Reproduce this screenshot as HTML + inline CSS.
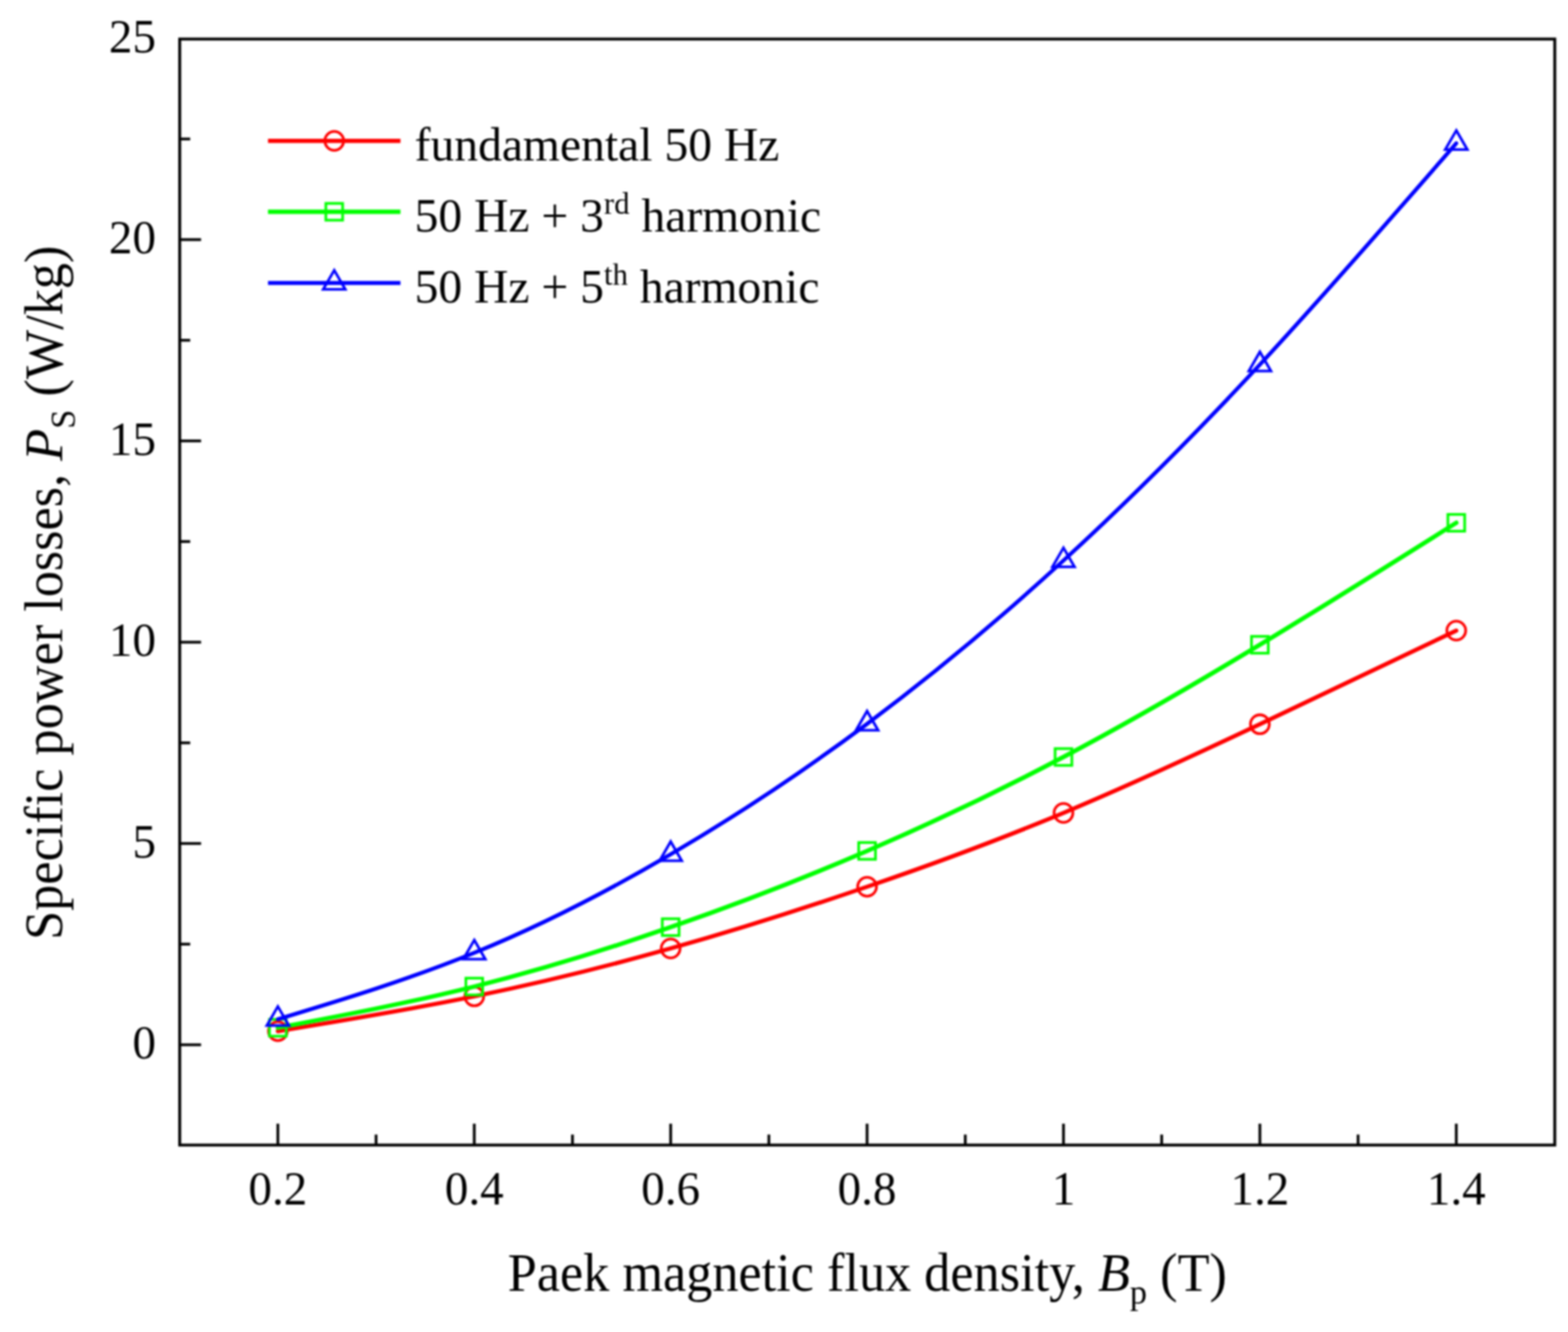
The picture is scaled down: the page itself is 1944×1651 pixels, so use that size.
<!DOCTYPE html>
<html lang="en">
<head>
<meta charset="utf-8">
<title>Specific power losses vs peak magnetic flux density</title>
<style>
html,body{margin:0;padding:0;background:#fff;}
body{width:1944px;height:1651px;overflow:hidden;}
svg{display:block;filter:blur(0.8px);}
text{font-family:"Liberation Serif","Times New Roman",serif;fill:#000;}
.tk{font-size:60px;}
.lg{font-size:59px;}
.ax{font-size:67.5px;}
.it{font-style:italic;}
</style>
</head>
<body>
<svg width="1944" height="1651" viewBox="0 0 1944 1651">
<rect x="0" y="0" width="1944" height="1651" fill="#fff"/>

<g stroke="#000" stroke-width="3.4" fill="none">
<line x1="344.50" y1="1419.3" x2="344.50" y2="1392.8"/>
<line x1="466.25" y1="1419.3" x2="466.25" y2="1406.3"/>
<line x1="588.00" y1="1419.3" x2="588.00" y2="1392.8"/>
<line x1="709.75" y1="1419.3" x2="709.75" y2="1406.3"/>
<line x1="831.50" y1="1419.3" x2="831.50" y2="1392.8"/>
<line x1="953.25" y1="1419.3" x2="953.25" y2="1406.3"/>
<line x1="1075.00" y1="1419.3" x2="1075.00" y2="1392.8"/>
<line x1="1196.75" y1="1419.3" x2="1196.75" y2="1406.3"/>
<line x1="1318.50" y1="1419.3" x2="1318.50" y2="1392.8"/>
<line x1="1440.25" y1="1419.3" x2="1440.25" y2="1406.3"/>
<line x1="1562.00" y1="1419.3" x2="1562.00" y2="1392.8"/>
<line x1="1683.75" y1="1419.3" x2="1683.75" y2="1406.3"/>
<line x1="1805.50" y1="1419.3" x2="1805.50" y2="1392.8"/>
<line x1="222.8" y1="1295.00" x2="249.3" y2="1295.00"/>
<line x1="222.8" y1="1045.50" x2="249.3" y2="1045.50"/>
<line x1="222.8" y1="796.00" x2="249.3" y2="796.00"/>
<line x1="222.8" y1="546.50" x2="249.3" y2="546.50"/>
<line x1="222.8" y1="297.00" x2="249.3" y2="297.00"/>
<line x1="222.8" y1="1170.25" x2="235.8" y2="1170.25"/>
<line x1="222.8" y1="920.75" x2="235.8" y2="920.75"/>
<line x1="222.8" y1="671.25" x2="235.8" y2="671.25"/>
<line x1="222.8" y1="421.75" x2="235.8" y2="421.75"/>
<line x1="222.8" y1="172.25" x2="235.8" y2="172.25"/>
</g>
<rect x="222.8" y="48.4" width="1704.8" height="1370.8999999999999" fill="none" stroke="#000" stroke-width="3.6"/>
<path d="M344.50,1278.10C425.67,1264.85 506.83,1251.59 588.00,1235.00C669.17,1218.41 750.33,1198.47 831.50,1175.60C912.67,1152.73 993.83,1126.93 1075.00,1099.10C1156.17,1071.27 1237.33,1041.41 1318.50,1007.60C1399.67,973.79 1480.83,936.03 1562.00,897.70C1643.17,859.37 1724.33,820.49 1805.50,781.60" fill="none" stroke="#ff0000" stroke-width="5.2" stroke-linecap="round"/>
<circle cx="344.50" cy="1278.10" r="11.7" fill="none" stroke="#ff0000" stroke-width="3.3"/>
<circle cx="588.00" cy="1235.00" r="11.7" fill="none" stroke="#ff0000" stroke-width="3.3"/>
<circle cx="831.50" cy="1175.60" r="11.7" fill="none" stroke="#ff0000" stroke-width="3.3"/>
<circle cx="1075.00" cy="1099.10" r="11.7" fill="none" stroke="#ff0000" stroke-width="3.3"/>
<circle cx="1318.50" cy="1007.60" r="11.7" fill="none" stroke="#ff0000" stroke-width="3.3"/>
<circle cx="1562.00" cy="897.70" r="11.7" fill="none" stroke="#ff0000" stroke-width="3.3"/>
<circle cx="1805.50" cy="781.60" r="11.7" fill="none" stroke="#ff0000" stroke-width="3.3"/>
<path d="M344.50,1273.90C425.67,1258.48 506.83,1243.07 588.00,1222.80C669.17,1202.53 750.33,1177.42 831.50,1149.20C912.67,1120.98 993.83,1089.65 1075.00,1054.70C1156.17,1019.75 1237.33,981.16 1318.50,938.30C1399.67,895.44 1480.83,848.30 1562.00,799.20C1643.17,750.10 1724.33,699.05 1805.50,648.00" fill="none" stroke="#00ff00" stroke-width="5.5" stroke-linecap="round"/>
<rect x="334.10" y="1263.50" width="20.80" height="20.80" fill="none" stroke="#00ff00" stroke-width="3.3"/>
<rect x="577.60" y="1212.40" width="20.80" height="20.80" fill="none" stroke="#00ff00" stroke-width="3.3"/>
<rect x="821.10" y="1138.80" width="20.80" height="20.80" fill="none" stroke="#00ff00" stroke-width="3.3"/>
<rect x="1064.60" y="1044.30" width="20.80" height="20.80" fill="none" stroke="#00ff00" stroke-width="3.3"/>
<rect x="1308.10" y="927.90" width="20.80" height="20.80" fill="none" stroke="#00ff00" stroke-width="3.3"/>
<rect x="1551.60" y="788.80" width="20.80" height="20.80" fill="none" stroke="#00ff00" stroke-width="3.3"/>
<rect x="1795.10" y="637.60" width="20.80" height="20.80" fill="none" stroke="#00ff00" stroke-width="3.3"/>
<path d="M344.50,1263.30C425.67,1238.68 506.83,1214.06 588.00,1181.00C669.17,1147.94 750.33,1106.45 831.50,1058.90C912.67,1011.35 993.83,957.75 1075.00,897.20C1156.17,836.65 1237.33,769.15 1318.50,694.80C1399.67,620.45 1480.83,539.26 1562.00,451.90C1643.17,364.54 1724.33,271.02 1805.50,177.50" fill="none" stroke="#0000ff" stroke-width="4.9" stroke-linecap="round"/>
<path d="M344.50,1247.48L358.20,1271.21L330.80,1271.21Z" fill="none" stroke="#0000ff" stroke-width="3.3" stroke-linejoin="miter"/>
<path d="M588.00,1165.18L601.70,1188.91L574.30,1188.91Z" fill="none" stroke="#0000ff" stroke-width="3.3" stroke-linejoin="miter"/>
<path d="M831.50,1043.08L845.20,1066.81L817.80,1066.81Z" fill="none" stroke="#0000ff" stroke-width="3.3" stroke-linejoin="miter"/>
<path d="M1075.00,881.38L1088.70,905.11L1061.30,905.11Z" fill="none" stroke="#0000ff" stroke-width="3.3" stroke-linejoin="miter"/>
<path d="M1318.50,678.98L1332.20,702.71L1304.80,702.71Z" fill="none" stroke="#0000ff" stroke-width="3.3" stroke-linejoin="miter"/>
<path d="M1562.00,436.08L1575.70,459.81L1548.30,459.81Z" fill="none" stroke="#0000ff" stroke-width="3.3" stroke-linejoin="miter"/>
<path d="M1805.50,161.68L1819.20,185.41L1791.80,185.41Z" fill="none" stroke="#0000ff" stroke-width="3.3" stroke-linejoin="miter"/>
<line x1="332.3" y1="174.6" x2="496.5" y2="174.6" stroke="#ff0000" stroke-width="5.2"/>
<circle cx="414.40" cy="174.60" r="11.7" fill="none" stroke="#ff0000" stroke-width="3.3"/>
<line x1="332.3" y1="262.5" x2="496.5" y2="262.5" stroke="#00ff00" stroke-width="5.5"/>
<rect x="404.00" y="252.10" width="20.80" height="20.80" fill="none" stroke="#00ff00" stroke-width="3.3"/>
<line x1="332.3" y1="350.8" x2="496.5" y2="350.8" stroke="#0000ff" stroke-width="4.9"/>
<path d="M414.40,334.98L428.10,358.71L400.70,358.71Z" fill="none" stroke="#0000ff" stroke-width="3.3" stroke-linejoin="miter"/>
<text class="lg" x="514" y="199">fundamental 50 Hz</text>
<text class="lg" x="514" y="287">50 Hz + 3<tspan dy="-22" font-size="38">rd</tspan><tspan dy="22"> harmonic</tspan></text>
<text class="lg" x="514" y="375">50 Hz + 5<tspan dy="-22" font-size="38">th</tspan><tspan dy="22"> harmonic</tspan></text>
<text class="tk" transform="translate(344.50,1493.3) scale(0.972,1)" text-anchor="middle">0.2</text>
<text class="tk" transform="translate(588.00,1493.3) scale(0.972,1)" text-anchor="middle">0.4</text>
<text class="tk" transform="translate(831.50,1493.3) scale(0.972,1)" text-anchor="middle">0.6</text>
<text class="tk" transform="translate(1075.00,1493.3) scale(0.972,1)" text-anchor="middle">0.8</text>
<text class="tk" transform="translate(1318.50,1493.3) scale(0.972,1)" text-anchor="middle">1</text>
<text class="tk" transform="translate(1562.00,1493.3) scale(0.972,1)" text-anchor="middle">1.2</text>
<text class="tk" transform="translate(1805.50,1493.3) scale(0.972,1)" text-anchor="middle">1.4</text>
<text class="tk" transform="translate(193.3,1312.00) scale(0.972,1)" text-anchor="end">0</text>
<text class="tk" transform="translate(193.3,1062.50) scale(0.972,1)" text-anchor="end">5</text>
<text class="tk" transform="translate(193.3,813.00) scale(0.972,1)" text-anchor="end">10</text>
<text class="tk" transform="translate(193.3,563.50) scale(0.972,1)" text-anchor="end">15</text>
<text class="tk" transform="translate(193.3,314.00) scale(0.972,1)" text-anchor="end">20</text>
<text class="tk" transform="translate(193.3,64.50) scale(0.972,1)" text-anchor="end">25</text>
<text class="ax" transform="translate(1075.3,1600.3) scale(0.96,1)" text-anchor="middle">Paek magnetic flux density, <tspan class="it">B</tspan><tspan dy="16" font-size="44.5">p</tspan><tspan dy="-16"> (T)</tspan></text>
<text class="ax" transform="translate(77.2,734.7) rotate(-90) scale(0.96,1)" text-anchor="middle">Specific power losses, <tspan class="it">P</tspan><tspan dy="16" font-size="44.5">S</tspan><tspan dy="-16"> (W/kg)</tspan></text>
</svg>
</body>
</html>
